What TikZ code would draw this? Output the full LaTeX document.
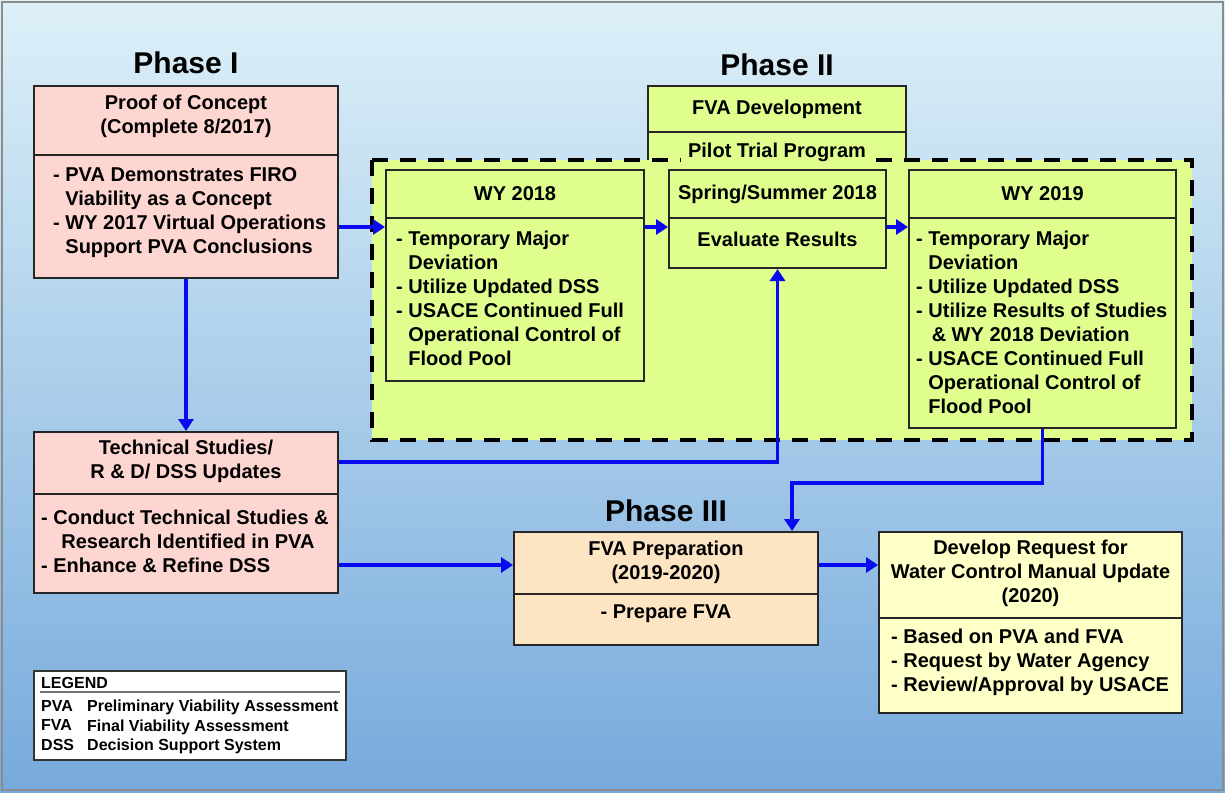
\documentclass[tikz,border=0pt]{standalone}
\usepackage{fontspec}
\setmainfont{Liberation Sans}
\usetikzlibrary{arrows.meta,calc}
\definecolor{bgtop}{HTML}{DDF0F8}
\definecolor{bgbot}{HTML}{76AADC}
\definecolor{pinkf}{HTML}{FDD6D1}
\definecolor{greenf}{HTML}{E0FE8E}
\definecolor{peachf}{HTML}{FDE4C2}
\definecolor{yellf}{HTML}{FFFFC8}
\definecolor{arrowblue}{HTML}{0A0AF0}
\begin{document}
\begin{tikzpicture}[x=1pt,y=-1pt,
  boxst/.style={draw=black!85,line width=2pt,rectangle,inner sep=0pt},
  divl/.style={draw=black!85,line width=2pt},
  hdr/.style={font=\bfseries\fontsize{20}{24}\selectfont,align=center,inner sep=0pt},
  body/.style={font=\bfseries\fontsize{20}{24}\selectfont,align=left,inner sep=0pt,anchor=north west},
  phase/.style={font=\bfseries\fontsize{30}{34}\selectfont,inner sep=0pt},
  leg/.style={font=\bfseries\fontsize{16}{19.5}\selectfont,align=left,inner sep=0pt,anchor=north west},
  conn/.style={draw=arrowblue,line width=3.8pt,-{Triangle[length=12pt,width=15pt]}},
  pilot/.style={draw=black,line width=3.2pt,dash pattern=on 16pt off 12pt}]
\useasboundingbox (0,0) rectangle (1225,792);
\shade[top color=bgtop,bottom color=bgbot] (0,0) rectangle (1225,792);
\draw[black!45,line width=1.5pt] (2,2) rectangle (1223,790);

% phase titles
\node[phase] (ph1) at (186,63) {Phase I};
\node[phase] (ph2) at (777,65) {Phase II};
\node[phase] (ph3) at (666,511) {Phase III};

% pilot trial region
\fill[greenf] (372,160) rectangle (1192,440);
% FVA development box
\fill[greenf] (648,86) rectangle (906,160);
\draw[divl] (648,160) -- (648,86) -- (906,86) -- (906,160);
\draw[divl] (648,132) -- (906,132);
\node[hdr] (fvadev) at (777,109) {FVA Development};
\draw[pilot] (372,160) rectangle (1192,440);
\node[hdr,fill=greenf,inner xsep=7pt,inner ysep=3pt] (pilot) at (777,152) {Pilot Trial Program};

% Proof of concept
\node[boxst,fill=pinkf,minimum width=304pt,minimum height=192pt] (poc) at (186,182) {};
\draw[divl] (34,155) -- (338,155);
\node[hdr] (pochd) at (186,116) {Proof of Concept\\(Complete 8/2017)};
\node[body] (pocbd) at (53,167) {- PVA Demonstrates FIRO\\\hphantom{- }Viability as a Concept\\- WY 2017 Virtual Operations\\\hphantom{- }Support PVA Conclusions};

% WY 2018
\node[boxst,fill=greenf,minimum width=258pt,minimum height=211pt] (wy18) at (515,275.5) {};
\draw[divl] (386,218) -- (644,218);
\node[hdr] (wy18hd) at (515,194) {WY 2018};
\node[body] (wy18bd) at (396,231) {- Temporary Major\\\hphantom{- }Deviation\\- Utilize Updated DSS\\- USACE Continued Full\\\hphantom{- }Operational Control of\\\hphantom{- }Flood Pool};

% Spring/Summer
\node[boxst,fill=greenf,minimum width=217pt,minimum height=98pt] (spring) at (777.5,219) {};
\draw[divl] (669,218) -- (886,218);
\node[hdr] (sphd) at (777.5,194) {Spring/Summer 2018};
\node[hdr] (spbd) at (777.5,239) {Evaluate Results};

% WY 2019
\node[boxst,fill=greenf,minimum width=267pt,minimum height=258pt] (wy19) at (1042.5,299) {};
\draw[divl] (909,218) -- (1176,218);
\node[hdr] (wy19hd) at (1042.5,194) {WY 2019};
\node[body] (wy19bd) at (916,231) {- Temporary Major\\\hphantom{- }Deviation\\- Utilize Updated DSS\\- Utilize Results of Studies\\\hphantom{- }\,\& WY 2018 Deviation\\- USACE Continued Full\\\hphantom{- }Operational Control of\\\hphantom{- }Flood Pool};

% Technical studies
\node[boxst,fill=pinkf,minimum width=304pt,minimum height=161pt] (tech) at (186,512.5) {};
\draw[divl] (34,494) -- (338,494);
\node[hdr] (techhd) at (186,461) {Technical Studies/\\R \& D/ DSS Updates};
\node[body] (techbd) at (41,510) {- Conduct Technical Studies \&\\\hphantom{- }\hspace{8pt}Research Identified in PVA\\- Enhance \& Refine DSS};

% FVA preparation
\node[boxst,fill=peachf,minimum width=304pt,minimum height=113pt] (prep) at (666,588.5) {};
\draw[divl] (514,594) -- (818,594);
\node[hdr] (prephd) at (666,562) {FVA Preparation\\(2019-2020)};
\node[hdr] (prepbd) at (666,614) {- Prepare FVA};

% Develop request
\node[boxst,fill=yellf,minimum width=303pt,minimum height=181pt] (dev) at (1030.5,622.5) {};
\draw[divl] (879,618) -- (1182,618);
\node[hdr] (devhd) at (1030.5,573) {Develop Request for\\Water Control Manual Update\\(2020)};
\node[body] (devbd) at (891,629) {- Based on PVA and FVA\\- Request by Water Agency\\- Review/Approval by USACE};

% Legend
\node[draw=black!80,line width=1.5pt,fill=white,minimum width=312pt,minimum height=89pt,inner sep=0pt] (legbox) at (190,715.5) {};
\node[leg] (legt) at (41,677) {LEGEND};
\draw[black!55,line width=1.5pt] (40,692) -- (340,692);
\node[leg] (legab) at (41,700) {PVA\\FVA\\DSS};
\node[leg] (legde) at (87,700) {Preliminary Viability Assessment\\Final Viability Assessment\\Decision Support System};

% connectors
\coordinate (r1) at (0,227);
\coordinate (r2) at (0,462);
\coordinate (r4) at (0,565);
\coordinate (k1) at (792,483);
\draw[conn] (poc.east |- r1) -- (wy18.west |- r1);
\draw[conn] (wy18.east |- r1) -- (spring.west |- r1);
\draw[conn] (spring.east |- r1) -- (wy19.west |- r1);
\draw[conn] (poc.south) -- (tech.north);
\draw[conn] (tech.east |- r2) -| (spring.south);
\draw[conn] (tech.east |- r4) -- (prep.west |- r4);
\draw[conn] (prep.east |- r4) -- (dev.west |- r4);
\draw[conn] (wy19.south) |- (k1) -- (k1 |- prep.north);
\end{tikzpicture}
\end{document}
